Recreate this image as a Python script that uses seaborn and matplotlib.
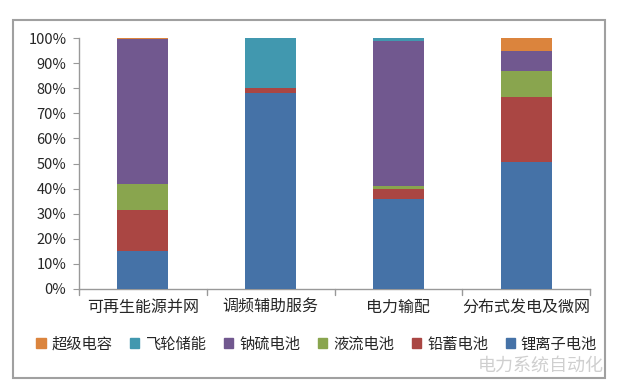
import seaborn as sns
import matplotlib.pyplot as plt
import matplotlib.patches as mpatches
import pandas as pd
import numpy as np

# data (percent share of each storage tech per application)
categories = ['可再生能源并网', '调频辅助服务', '电力输配', '分布式发电及微网']
series = ['锂离子电池', '铅蓄电池', '液流电池', '钠硫电池', '飞轮储能', '超级电容']
li_ion = [15, 78, 36, 50.5]
lead_acid = [16.5, 2, 4, 26]
flow = [10.5, 0, 1, 10.5]
nas = [57.5, 0, 58, 8]
flywheel = [0, 20, 1, 0]
supercap = [0.5, 0, 0, 5]
colors = ['#4572A7', '#AA4643', '#89A54E', '#71588F', '#4198AF', '#DB843D']

sns.set_style('white')
plt.rcParams['font.family'] = ['Noto Sans CJK SC', 'DejaVu Sans']

df = pd.DataFrame({'cat': categories, '锂离子电池': li_ion, '铅蓄电池': lead_acid,
                   '液流电池': flow, '钠硫电池': nas, '飞轮储能': flywheel,
                   '超级电容': supercap})
cum = df[series].cumsum(axis=1)

fig = plt.figure(figsize=(6.4, 3.92), dpi=100)
ax = fig.add_axes([0.1234, 0.2628, 0.7986, 0.6402])

# draw cumulative totals top-down so lower segments sit on top
for i in range(len(series) - 1, -1, -1):
    s = series[i]
    sns.barplot(x=df['cat'], y=cum[s], color=colors[i], width=0.4,
                saturation=1, linewidth=0, ax=ax, zorder=2 + (len(series) - i))

ax.set_ylim(0, 100)
ax.set_xlim(-0.5, 3.5)
ax.set_yticks(np.arange(0, 101, 10))
ax.set_yticklabels([f'{v}%' for v in range(0, 101, 10)], fontsize=10.5)
ax.set_xticks(range(4))
ax.set_xticklabels(categories, fontsize=11.5)
ax.set_xlabel('')
ax.set_ylabel('')
ax.tick_params(axis='x', length=0, pad=7)
ax.tick_params(axis='y', left=True, length=4, color='#999999', pad=5)
for b in [-0.5, 0.5, 1.5, 2.5, 3.5]:
    ax.plot([b, b], [0, -2.5], color='#999999', lw=1, clip_on=False)
sns.despine(ax=ax, top=True, right=True)
for sp in ['left', 'bottom']:
    ax.spines[sp].set_color('#999999')
    ax.spines[sp].set_linewidth(1)

handles = [mpatches.Patch(color=colors[i], label=series[i])
           for i in range(len(series) - 1, -1, -1)]
fig.legend(handles=handles, loc='center', bbox_to_anchor=(0.495, 0.122), ncol=6,
           frameon=False, fontsize=11, handlelength=0.6, handleheight=0.6,
           handletextpad=0.4, columnspacing=1.15)

# chart border
fig.patches.append(mpatches.Rectangle((0.02, 0.036), 0.925, 0.913,
                                      transform=fig.transFigure, fill=False,
                                      edgecolor='#A0A0A0', lw=1.5))
fig.text(0.845, 0.068, '电力系统自动化', fontsize=13, color='#C4C4C4',
         alpha=0.8, ha='center', va='center')

fig.savefig('out.png', dpi=100)
